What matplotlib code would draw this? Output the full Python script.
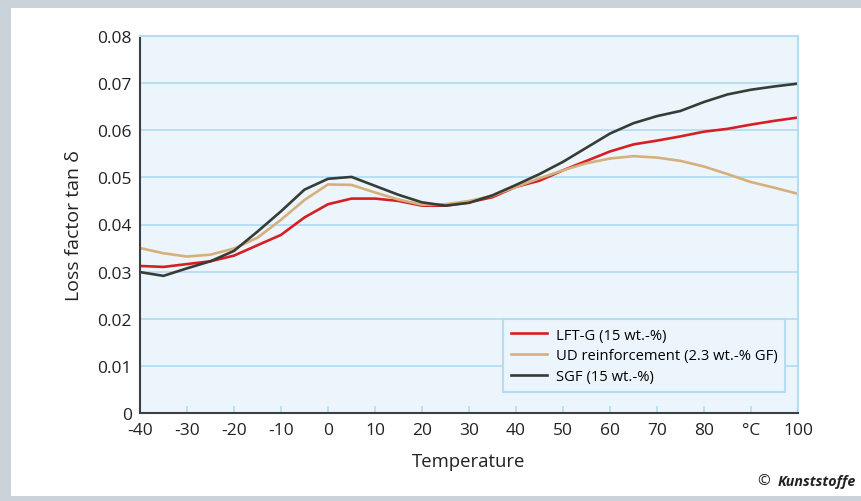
import matplotlib.pyplot as plt
from matplotlib.patches import Rectangle

plt.rcParams['font.family'] = ['Open Sans', 'DejaVu Sans']

# temperature grid in °C
temp = [-40, -35, -30, -25, -20, -15, -10, -5, 0, 5, 10, 15, 20, 25, 30,
        35, 40, 45, 50, 55, 60, 65, 70, 75, 80, 85, 90, 95, 100]

lft_g = [0.0312, 0.0310, 0.0316, 0.0322, 0.0334, 0.0356, 0.0378, 0.0415, 0.0443,
         0.0455, 0.0455, 0.0450, 0.0440, 0.0440, 0.0447, 0.0458, 0.0480, 0.0493,
         0.0515, 0.0535, 0.0555, 0.0570, 0.0578, 0.0587, 0.0597, 0.0603, 0.0612,
         0.0620, 0.0627]

ud_reinf = [0.0350, 0.0339, 0.0332, 0.0336, 0.0349, 0.0372, 0.0410, 0.0452, 0.0485,
            0.0484, 0.0468, 0.0453, 0.0442, 0.0443, 0.0450, 0.0461, 0.0480, 0.0498,
            0.0515, 0.0530, 0.0540, 0.0545, 0.0542, 0.0535, 0.0523, 0.0507, 0.0490,
            0.0478, 0.0465]

sgf = [0.0299, 0.0291, 0.0307, 0.0322, 0.0344, 0.0385, 0.0428, 0.0474, 0.0497,
       0.0501, 0.0482, 0.0463, 0.0447, 0.0440, 0.0446, 0.0462, 0.0484, 0.0507,
       0.0533, 0.0563, 0.0593, 0.0615, 0.0630, 0.0641, 0.0660, 0.0676, 0.0686,
       0.0693, 0.0699]

labels = ['LFT-G (15 wt.-%)', 'UD reinforcement (2.3 wt.-% GF)', 'SGF (15 wt.-%)']
colors = ['#d71f23', '#d6b07c', '#363c36']

xticks = [-40, -30, -20, -10, 0, 10, 20, 30, 40, 50, 60, 70, 80, 90, 100]
xticklabels = ['-40', '-30', '-20', '-10', '0', '10', '20', '30', '40', '50',
               '60', '70', '80', '°C', '100']
yticks = [0, 0.01, 0.02, 0.03, 0.04, 0.05, 0.06, 0.07, 0.08]
yticklabels = ['0', '0.01', '0.02', '0.03', '0.04', '0.05', '0.06', '0.07', '0.08']

fig = plt.figure(figsize=(8.62, 5.02), dpi=100)
W, H = 862, 502

# grey frame around the figure
fig.patches.append(Rectangle((0, 0), 1, 1, transform=fig.transFigure,
                             facecolor='#cbd3da', edgecolor='none', zorder=-10))
fig.patches.append(Rectangle((11 / W, 5 / H), 1 - 11 / W, 1 - 14 / H,
                             transform=fig.transFigure, facecolor='white',
                             edgecolor='none', zorder=-9))

ax = fig.add_axes([140 / W, 1 - 414 / H, (798 - 140) / W, (414 - 37) / H])
ax.set_facecolor('#edf5fc')

for y, c, lab in zip([lft_g, ud_reinf, sgf], colors, labels):
    ax.plot(temp, y, color=c, lw=1.9, label=lab)

ax.set_xlim(-40, 100)
ax.set_ylim(0, 0.08)
ax.set_xticks(xticks)
ax.set_xticklabels(xticklabels)
ax.set_yticks(yticks)
ax.set_yticklabels(yticklabels)
ax.grid(axis='y', color='#a9d9ef', lw=1.1)
ax.set_axisbelow(True)

ax.tick_params(axis='x', direction='in', length=5, width=1.1, colors='#a9d9ef',
               labelcolor='#222222', labelsize=12.5, pad=6.5)
ax.tick_params(axis='y', length=0, labelsize=12.5, pad=6, labelcolor='#222222')

for s in ['left', 'bottom']:
    ax.spines[s].set_color('#3b4045')
    ax.spines[s].set_linewidth(1.5)
for s in ['top', 'right']:
    ax.spines[s].set_color('#b5ddf0')
    ax.spines[s].set_linewidth(1.5)

ax.set_xlabel('Temperature', fontsize=13.3, labelpad=10, color='#222222')
ax.set_ylabel('Loss factor tan δ', fontsize=14, labelpad=10, color='#222222')

leg = ax.legend(loc='lower right', bbox_to_anchor=(0.992, 0.035), fontsize=10.6,
                frameon=True, fancybox=False, handlelength=2.4, handletextpad=0.6,
                labelspacing=0.4, borderpad=0.55)
leg.get_frame().set_facecolor('#edf5fc')
leg.get_frame().set_edgecolor('#b5ddf0')
leg.get_frame().set_linewidth(1.5)
leg.get_frame().set_alpha(1)

fig.text(757 / W, 1 - 482 / H, '©', fontsize=11, va='center', color='#222222')
fig.text(778 / W, 1 - 482 / H, 'Kunststoffe', fontsize=10.3, fontweight='bold',
         style='italic', va='center', color='#222222')

fig.savefig('out.png', dpi=100)
